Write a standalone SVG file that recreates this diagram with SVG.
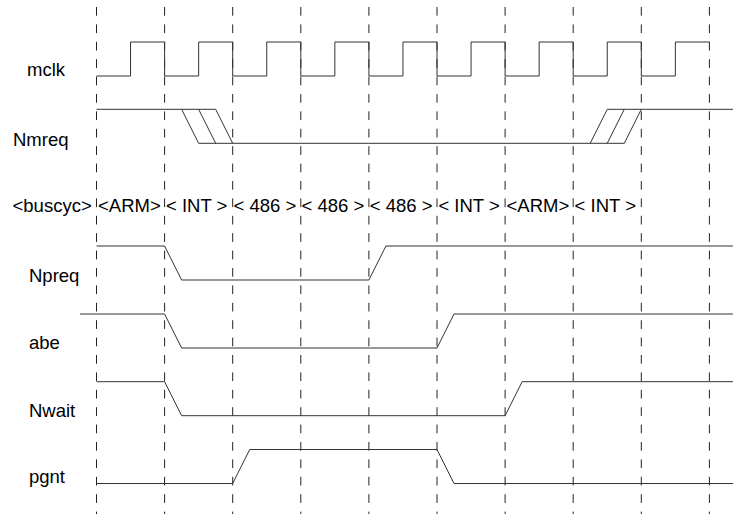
<svg xmlns="http://www.w3.org/2000/svg" width="733" height="514" viewBox="0 0 733 514">
<style>
.grid{stroke:#222;stroke-width:1;stroke-dasharray:8.7 8.7;fill:none}
.sig{stroke:#333;stroke-width:1;fill:none}
.lbl{font-family:"Liberation Sans",Arial,sans-serif;font-size:18.5px;fill:#000}
</style>
<rect width="733" height="514" fill="#fff"/>
<g id="grid">
<path class="grid" d="M96.5 7V514M164.6 7V514M232.7 7V514M300.8 7V514M368.9 7V514M437 7V514M505.1 7V514M573.2 7V514M641.3 7V514M709.4 7V514"/>
</g>
<g id="labels">
<text class="lbl" x="27" y="76">mclk</text>
<text class="lbl" x="13" y="146">Nmreq</text>
<text class="lbl" x="12.5" y="212">&lt;buscyc&gt;</text>
<text class="lbl" x="98" y="212">&lt;ARM&gt;</text>
<text class="lbl" x="166" y="212">&lt; INT &gt;</text>
<text class="lbl" x="233.5" y="212">&lt; 486 &gt;</text>
<text class="lbl" x="301.6" y="212">&lt; 486 &gt;</text>
<text class="lbl" x="369.7" y="212">&lt; 486 &gt;</text>
<text class="lbl" x="438.4" y="212">&lt; INT &gt;</text>
<text class="lbl" x="506.5" y="212">&lt;ARM&gt;</text>
<text class="lbl" x="574.6" y="212">&lt; INT &gt;</text>
<text class="lbl" x="29" y="282">Npreq</text>
<text class="lbl" x="29" y="349">abe</text>
<text class="lbl" x="29" y="417">Nwait</text>
<text class="lbl" x="29" y="483">pgnt</text>
</g>
<g id="signals">
<path id="mclk" class="sig" d="M96.5 76H130.55V42H164.6V76H198.65V42H232.7V76H266.75V42H300.8V76H334.85V42H368.9V76H402.95V42H437V76H471.05V42H505.1V76H539.15V42H573.2V76H607.25V42H641.3V76H675.35V42H709.4"/>
<g id="Nmreq">
<path class="sig" d="M96.5 109.3H215.68M181.63 109.3L198.65 143.3M198.65 109.3L215.68 143.3M215.68 109.3L232.7 143.3M198.65 143.3H624.28M590.23 143.3L607.25 109.3M607.25 143.3L624.28 109.3M624.28 143.3L641.3 109.3M607.25 109.3H733"/>
</g>
<path id="Npreq" class="sig" d="M96.5 246H164.6L181.63 280H368.9L385.93 246H733"/>
<path id="abe" class="sig" d="M80 314H164.6L181.63 348H437L454.03 314H733"/>
<path id="Nwait" class="sig" d="M96.5 381.7H164.6L181.63 415.7H505.1L522.13 381.7H733"/>
<path id="pgnt" class="sig" d="M96.5 483.5H232.7L249.73 449.5H437L454.03 483.5H733"/>
</g>
</svg>
